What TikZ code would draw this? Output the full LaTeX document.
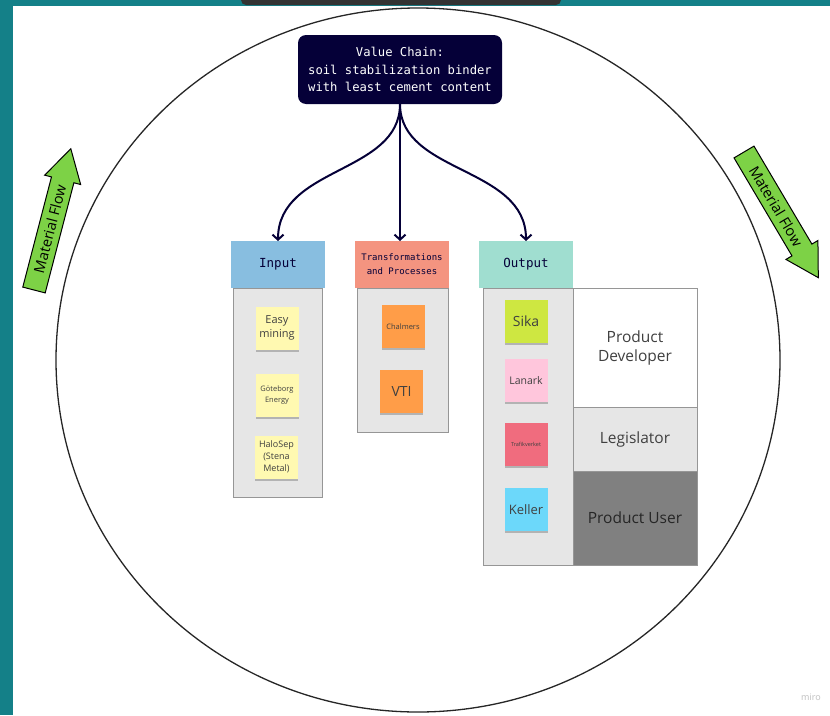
\documentclass[tikz,border=0pt]{standalone}
\usepackage{fontspec}
\setmainfont{Open Sans}
\newfontfamily\codefont{DejaVu Sans Mono}
\usetikzlibrary{shapes.arrows,shadows,arrows.meta}

\definecolor{frame}{RGB}{20,128,136}
\definecolor{navy}{RGB}{5,0,56}
\definecolor{inputblue}{RGB}{136,190,224}
\definecolor{transred}{RGB}{244,148,128}
\definecolor{outputmint}{RGB}{160,222,208}
\definecolor{colgray}{RGB}{230,230,230}
\definecolor{colline}{RGB}{150,150,150}
\definecolor{stickyyellow}{RGB}{255,249,177}
\definecolor{stickyorange}{RGB}{255,157,72}
\definecolor{stickylime}{RGB}{206,231,65}
\definecolor{stickypink}{RGB}{255,198,220}
\definecolor{stickyred}{RGB}{240,108,126}
\definecolor{stickycyan}{RGB}{108,216,250}
\definecolor{usergray}{RGB}{128,128,128}
\definecolor{flowgreen}{RGB}{125,210,70}

\begin{document}
\begin{tikzpicture}[x=1pt, y=-1pt]
	\tikzstyle{every node}=[inner sep=0pt, outer sep=0pt, align=center]
	\tikzstyle{head}=[minimum width=94pt, minimum height=47pt, text=navy, font={\codefont\fontsize{12.5}{14}\selectfont}]
	\tikzstyle{column}=[draw=colline, line width=0.8pt, fill=colgray]
	\tikzstyle{sticky}=[minimum width=43pt, minimum height=43pt, text=black!75, drop shadow={shadow xshift=0pt, shadow yshift=-2pt, opacity=0.22, fill=black}]
	\tikzstyle{role}=[draw=colline, line width=0.8pt, minimum width=124pt, text=black!75, font={\fontsize{15.5}{19}\selectfont}]
	\tikzstyle{flow}=[single arrow, draw=black, line width=1pt, fill=flowgreen, minimum height=146pt, inner xsep=4pt, inner ysep=5.5pt, single arrow head extend=7pt, single arrow tip angle=60, font={\fontsize{14.5}{16}\selectfont}]
	\tikzstyle{link}=[navy, line width=2pt, -{Straight Barb[length=5pt, width=11pt]}]

	\useasboundingbox (0,0) rectangle (830,715);
	\clip (0,0) rectangle (830,715);
	\fill[white] (0,0) rectangle (830,715);
	\fill[frame] (0,0) rectangle (13,715);
	\fill[frame] (0,0) rectangle (830,6);
	\fill[black!80, rounded corners=5pt] (241,-10) rectangle (561,5);

	\draw[line width=1.3pt, black!85] (418,360) ellipse [x radius=362, y radius=352];

	\node[fill=navy, rounded corners=8pt, minimum width=204pt, minimum height=69pt, text=white, font={\codefont\fontsize{12.2}{17.5}\selectfont}] (chain) at (400,69.5) {Value Chain:\\soil stabilization binder\\with least cement content};

	\node[column, minimum width=89pt, minimum height=209pt] (inputbox) at (277.5,392.5) {};
	\node[column, minimum width=91pt, minimum height=144pt] (transbox) at (402.5,360) {};
	\node[column, minimum width=90pt, minimum height=277pt] (outputbox) at (528,426.5) {};

	\node[head, fill=inputblue] (input) at (278,264.5) {Input};
	\node[head, fill=transred, font={\codefont\fontsize{9}{14}\selectfont}] (trans) at (402,264.5) {Transformations\\and Processes};
	\node[head, fill=outputmint] (output) at (526,264.5) {Output};

	\draw[link] (chain.south) .. controls +(0,70) and +(0,-75) .. (input.north);
	\draw[link] (chain.south) -- (chain.south |- trans.north);
	\draw[link] (chain.south) .. controls +(0,70) and +(0,-75) .. (output.north);

	\node[sticky, fill=stickyyellow, font={\fontsize{11}{14}\selectfont}] (easy) at (277,328) {Easy\\mining};
	\node[sticky, fill=stickyyellow, font={\fontsize{7.5}{11}\selectfont}] (goteborg) at (277,395.5) {Göteborg\\Energy};
	\node[sticky, fill=stickyyellow, font={\fontsize{9}{12}\selectfont}] (halosep) at (276.5,457) {HaloSep\\(Stena\\Metal)};
	\node[sticky, fill=stickyorange, font={\fontsize{7.5}{9}\selectfont}] (chalmers) at (403,326.5) {Chalmers};
	\node[sticky, fill=stickyorange, font={\fontsize{14}{16}\selectfont}] (vti) at (401.5,391.5) {VTI};
	\node[sticky, fill=stickylime, font={\fontsize{14}{16}\selectfont}] (sika) at (526,321.5) {Sika};
	\node[sticky, fill=stickypink, font={\fontsize{10.5}{12}\selectfont}] (lanark) at (526,380.5) {Lanark};
	\node[sticky, fill=stickyred, font={\fontsize{5.5}{7}\selectfont}] (trafik) at (526,444) {Trafikverket};
	\node[sticky, fill=stickycyan, font={\fontsize{13}{15}\selectfont}] (keller) at (526,509.5) {Keller};

	\node[role, fill=white, minimum height=119pt] (developer) at (635,347.5) {Product\\Developer};
	\node[role, fill=colgray, minimum height=64pt] (legislator) at (635,439) {Legislator};
	\node[role, fill=usergray, minimum height=94pt, text=black!85] (user) at (635,518) {Product User};

	\node[flow, anchor=tail, rotate=75.4] (flowin) at (34,290) {Material Flow};
	\node[flow, anchor=tail, rotate=-59.4] (flowout) at (744,152) {Material Flow};

	\node[text=black!25, font={\fontsize{9}{10}\selectfont}] (miro) at (811,697) {miro};
\end{tikzpicture}
\end{document}
